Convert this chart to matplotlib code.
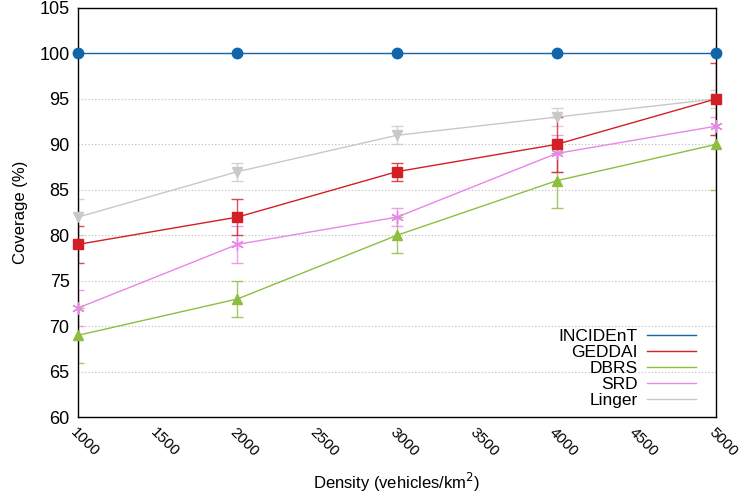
import numpy as np
import matplotlib.pyplot as plt

plt.rcParams['font.family'] = ['Liberation Sans', 'DejaVu Sans']

density = [1000, 2000, 3000, 4000, 5000]

incident = [100, 100, 100, 100, 100]
geddai = [79, 82, 87, 90, 95]
geddai_err = [2, 2, 1, 3, 4]
dbrs = [69, 73, 80, 86, 90]
dbrs_err = [3, 2, 2, 3, 5]
srd = [72, 79, 82, 89, 92]
srd_err = [2, 2, 1, 2, 1]
linger = [82, 87, 91, 93, 95]
linger_err = [2, 1, 1, 1, 1]

fig = plt.figure(figsize=(7.42, 4.99), dpi=100)
ax = fig.add_axes([0.105, 0.164, 0.86, 0.82])

# drawn back to front so the red/blue ones sit on top
series = [
    ('Linger', linger, linger_err, '#c8c8c8', 'v', 6.5),
    ('DBRS', dbrs, dbrs_err, '#8cbf3f', '^', 6.5),
    ('SRD', srd, srd_err, '#e887e8', (6, 2, 0), 9),
    ('GEDDAI', geddai, geddai_err, '#d41e26', 's', 7),
]
handles = {}
for name, vals, err, col, mk, ms in series:
    ax.errorbar(density, vals, yerr=err, fmt='none', ecolor=col, elinewidth=1.0,
                capsize=4, capthick=1.0, alpha=0.8, zorder=2)
    ln, = ax.plot(density, vals, color=col, marker=mk, markersize=ms, lw=1.0,
                  markeredgewidth=1.0, zorder=3, clip_on=False)
    handles[name] = ln

ln, = ax.plot(density, incident, color='#1166aa', marker='o', markersize=7.5, lw=1.0,
              zorder=4, clip_on=False)
handles['INCIDEnT'] = ln

ax.set_xlim(1000, 5000)
ax.set_ylim(60, 105)
ax.set_xticks(np.arange(1000, 5001, 500))
ax.set_yticks(np.arange(60, 106, 5))
ax.tick_params(axis='x', labelsize=11, rotation=-45, length=0, pad=6)
ax.tick_params(axis='y', labelsize=13, length=0, pad=6)
for lab in ax.get_xticklabels():
    lab.set_ha('left')
    lab.set_rotation_mode('anchor')
ax.grid(axis='y', color='#bbbbbb', linestyle=(0, (1, 2)), lw=0.8)
ax.set_axisbelow(True)
for sp in ax.spines.values():
    sp.set_linewidth(1.0)

ax.set_xlabel('Density (vehicles/km$^2$)', fontsize=12, labelpad=8)
ax.set_ylabel('Coverage (%)', fontsize=12, labelpad=8)

names = ['INCIDEnT', 'GEDDAI', 'DBRS', 'SRD', 'Linger']
leg_lines = [plt.Line2D([], [], color=handles[n].get_color(), lw=1.0) for n in names]
ax.legend(leg_lines, names, loc='lower right', frameon=False, markerfirst=False,
          fontsize=12.5, handlelength=2.8, handletextpad=0.55, labelspacing=0.05,
          borderaxespad=0.1, bbox_to_anchor=(0.982, 0.0))

fig.savefig('out.png', dpi=100)
